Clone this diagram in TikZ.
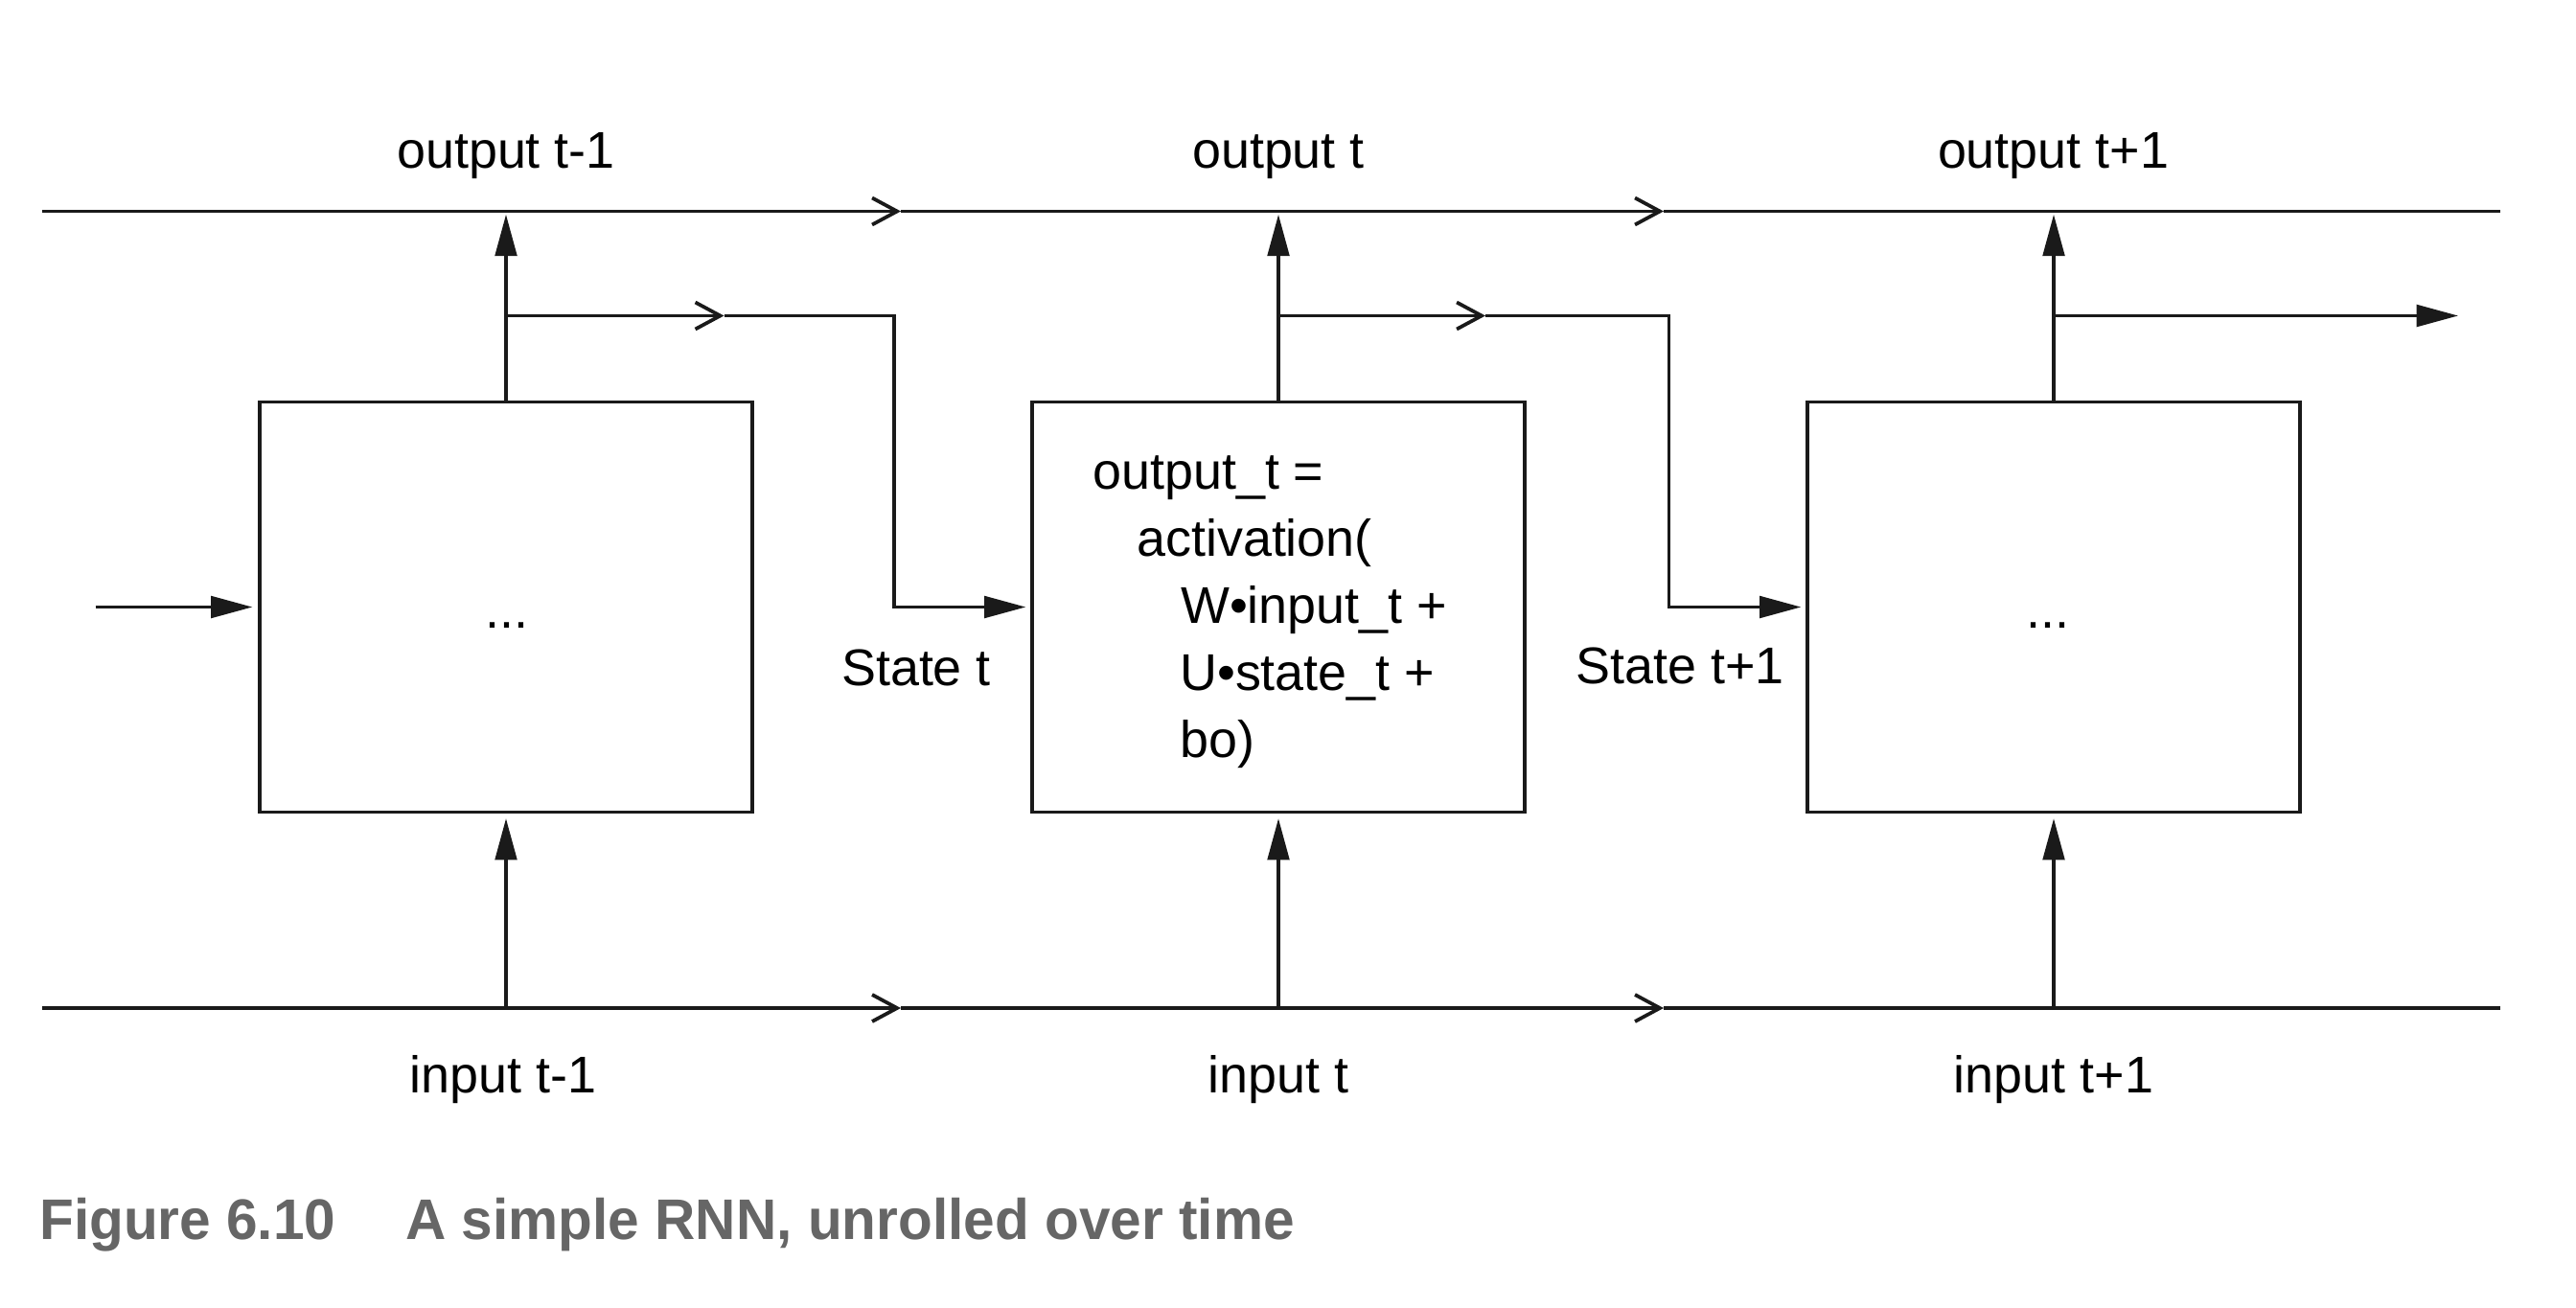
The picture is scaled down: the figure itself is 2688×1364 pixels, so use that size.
\documentclass[tikz,border=0pt]{standalone}
\usepackage{fontspec}
\setmainfont{Liberation Sans}
\newfontfamily\capfont[FakeStretch=0.98]{Liberation Sans}
\usetikzlibrary{arrows.meta}
\definecolor{ink}{HTML}{1A1A1A}
\definecolor{capgray}{HTML}{666666}
\begin{document}
\begin{tikzpicture}[x=0.03cm,y=-0.03cm,
  lbl/.style={font=\fontsize{46}{60}\selectfont, inner sep=0, anchor=base},
  boxtxt/.style={font=\fontsize{46}{60}\selectfont, inner sep=0, anchor=base west},
  cell/.style={draw=ink, line width=2.8pt, minimum width=15.42cm, minimum height=12.84cm, inner sep=0},
  wire/.style={draw=ink, line width=2.8pt},
  fillhead/.style={-{Triangle[length=1.3cm,width=0.68cm]}},
  chevhead/.style={-{Straight Barb[length=0.78cm,width=0.84cm,line width=3.2pt]}},
]
\useasboundingbox (0,0) rectangle (2688,1364);

% cells
\node[cell] (b1) at (528,633.5) {};
\node[cell] (b2) at (1334,633.5) {};
\node[cell] (b3) at (2143,633.5) {};

% top (output) line
\coordinate (tl) at (43.5,220.5);
\coordinate (tc1) at (940,220.5);
\coordinate (tc2) at (1736,220.5);
\coordinate (tr) at (2609,220.5);
\draw[wire,chevhead] (tl) -- (tc1);
\draw[wire,chevhead] (tc1) -- (tc2);
\draw[wire] (tc2) -- (tr);

% bottom (input) line
\coordinate (bl) at (43.5,1052);
\coordinate (bc1) at (940,1052);
\coordinate (bc2) at (1736,1052);
\coordinate (br) at (2609,1052);
\draw[wire,chevhead] (bl) -- (bc1);
\draw[wire,chevhead] (bc1) -- (bc2);
\draw[wire] (bc2) -- (br);

% outputs
\draw[wire,fillhead,shorten >=0.1cm] (b1.north) -- (b1.north |- tl);
\draw[wire,fillhead,shorten >=0.1cm] (b2.north) -- (b2.north |- tl);
\draw[wire,fillhead,shorten >=0.1cm] (b3.north) -- (b3.north |- tl);

% inputs
\draw[wire,fillhead,shorten >=0.15cm] (b1.south |- bl) -- (b1.south);
\draw[wire,fillhead,shorten >=0.15cm] (b2.south |- bl) -- (b2.south);
\draw[wire,fillhead,shorten >=0.15cm] (b3.south |- bl) -- (b3.south);

% incoming state
\coordinate (in0) at (99.6,633.5);
\draw[wire,fillhead,shorten >=0.18cm] (in0) -- (b1.west);

% state t
\coordinate (j1) at (528,329.5);
\coordinate (sc1) at (755.5,329.5);
\coordinate (k1) at (933,633.5);
\draw[wire,chevhead] (j1) -- (sc1);
\draw[wire,fillhead,shorten >=0.15cm] (sc1) -| (k1) -- (b2.west);

% state t+1
\coordinate (j2) at (1334,329.5);
\coordinate (sc2) at (1550,329.5);
\coordinate (k2) at (1741.7,633.5);
\draw[wire,chevhead] (j2) -- (sc2);
\draw[wire,fillhead,shorten >=0.15cm] (sc2) -| (k2) -- (b3.west);

% outgoing state
\coordinate (j3) at (2143,329.5);
\coordinate (e3) at (2565,329.5);
\draw[wire,fillhead] (j3) -- (e3);

% labels
\node[lbl] (o1) at (528,175) {output t-1};
\node[lbl] (o2) at (1334,175) {output t};
\node[lbl] (o3) at (2142.6,175) {output t+1};
\node[lbl] (i1) at (525,1140) {input t-1};
\node[lbl] (i2) at (1334,1140) {input t};
\node[lbl] (i3) at (2143,1140) {input t+1};
\node[lbl] (st1) at (956,715) {State t};
\node[lbl] (st2) at (1753,713) {State t+1};
\node[lbl] (d1) at (528.6,655) {...};
\node[lbl] (d3) at (2137,655) {...};

% cell t formula
\node[boxtxt] (f1) at (1140,510) {output\_t =};
\node[boxtxt] (f2) at (1186,580) {activation(};
\node[boxtxt] (f3) at (1232,650) {W•input\_t +};
\node[boxtxt] (f4) at (1231,720) {U•state\_t +};
\node[boxtxt] (f5) at (1231,790) {bo)};

% caption
\node[anchor=base west, inner sep=0, text=capgray, font=\capfont\bfseries\fontsize{51}{60}\selectfont] (cap) at (41,1293) {Figure 6.10\hspace{2.19cm}A simple RNN, unrolled over time};
\end{tikzpicture}
\end{document}
